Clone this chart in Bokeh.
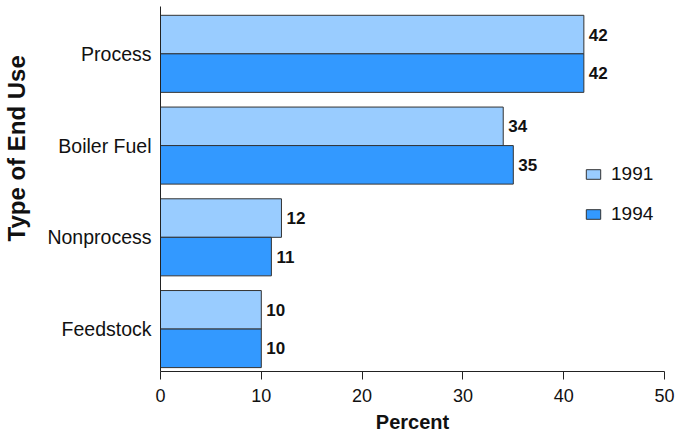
from bokeh.plotting import figure
from bokeh.models import (ColumnDataSource, Range1d, FixedTicker, Legend, LegendItem, Title)
from bokeh.core.properties import value
from bokeh.embed import file_html
from bokeh.resources import INLINE

categories = ["Feedstock", "Nonprocess", "Boiler Fuel", "Process"]
series_names = ["1991", "1994"]
values_1991 = [10, 12, 34, 42]
values_1994 = [10, 11, 35, 42]
x_ticks = [0, 10, 20, 30, 40, 50]

colors = {"1991": "#99CCFF", "1994": "#3399FF"}
FONT = "Liberation Sans"
bar_h = 0.42

p = figure(width=678, height=436, output_backend="svg", toolbar_location=None,
           x_range=Range1d(0, 50), y_range=Range1d(-0.4625, 3.516),
           min_border_left=160, min_border_right=14, min_border_top=6, min_border_bottom=65)
p.outline_line_color = None
p.grid.visible = False
p.background_fill_color = "white"

idx = list(range(len(categories)))
src91 = ColumnDataSource(dict(y=[i + bar_h / 2 for i in idx], v=values_1991,
                              t=[str(v) for v in values_1991]))
src94 = ColumnDataSource(dict(y=[i - bar_h / 2 for i in idx], v=values_1994,
                              t=[str(v) for v in values_1994]))

r91 = p.hbar(y="y", left=0, right="v", height=bar_h, source=src91,
             fill_color=colors["1991"], line_color="#333333", line_width=1)
r94 = p.hbar(y="y", left=0, right="v", height=bar_h, source=src94,
             fill_color=colors["1994"], line_color="#333333", line_width=1)

for src in (src91, src94):
    p.text(x="v", y="y", text="t", source=src, x_offset=5,
           text_font=value(FONT), text_font_size="17px", text_font_style="bold",
           text_color="#111111", text_baseline="middle", text_align="left")

# x axis
xa = p.xaxis[0]
xa.ticker = FixedTicker(ticks=x_ticks)
xa.minor_tick_line_color = None
xa.major_tick_in = 0
xa.major_tick_out = 8
xa.axis_line_color = "#222222"
xa.major_tick_line_color = "#222222"
xa.major_label_text_font = FONT
xa.major_label_text_font_size = "18px"
xa.major_label_text_color = "#111111"
xa.major_label_standoff = 9
xa.axis_label = "Percent"
xa.axis_label_text_font = FONT
xa.axis_label_text_font_size = "20px"
xa.axis_label_text_font_style = "bold"
xa.axis_label_text_color = "#111111"
xa.axis_label_standoff = 6

# y axis
ya = p.yaxis[0]
ya.ticker = FixedTicker(ticks=idx)
ya.major_label_overrides = {i: c for i, c in zip(idx, categories)}
ya.minor_tick_line_color = None
ya.major_tick_line_color = None
ya.major_tick_in = 0
ya.major_tick_out = 0
ya.axis_line_color = "#222222"
ya.major_label_text_font = FONT
ya.major_label_text_font_size = "19.5px"
ya.major_label_text_color = "#111111"
ya.major_label_standoff = 9
# invisible spacer label to push the title outward
ya.axis_label = " "
ya.axis_label_text_font_size = "1px"
ya.axis_label_standoff = 11

# y title, shifted up as in the reference
p.add_layout(Title(text="Type of End Use", align="left", offset=130,
                   text_font=FONT, text_font_size="24px", text_font_style="bold",
                   text_color="#111111", standoff=0), "left")

legend = Legend(items=[LegendItem(label="1991", renderers=[r91]),
                       LegendItem(label="1994", renderers=[r94])],
                location=(424, 146), orientation="vertical")
legend.glyph_width = 18
legend.glyph_height = 12
legend.label_standoff = 9
legend.spacing = 18
legend.padding = 0
legend.margin = 0
legend.border_line_color = None
legend.background_fill_alpha = 0
legend.label_text_font = FONT
legend.label_text_font_size = "19px"
legend.label_text_color = "#111111"
p.add_layout(legend)

open("out.html", "w").write(file_html(p, INLINE))
